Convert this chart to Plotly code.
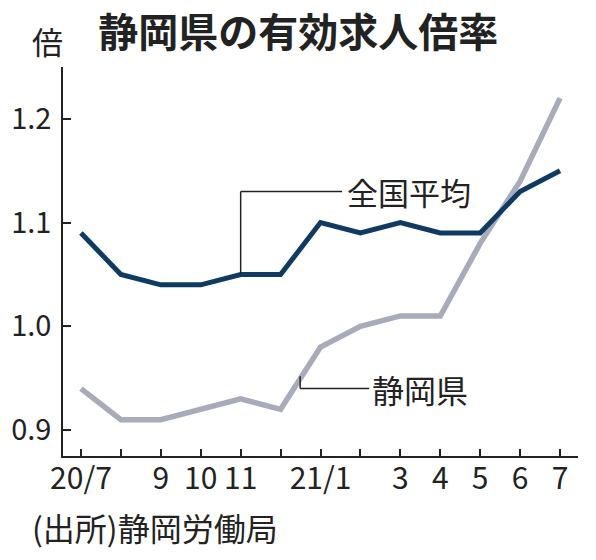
"""
静岡県の有効求人倍率 (2020/7 - 2021/7) line chart.
"""

import plotly.graph_objects as go

# months on the x axis and the labels printed under the ticks
MONTHS = ["20/7", "20/8", "20/9", "20/10", "20/11", "20/12",
          "21/1", "21/2", "21/3", "21/4", "21/5", "21/6", "21/7"]
TICK_LABELS = ["20/7", "", "9", "10", "11", "", "21/1", "", "3", "4", "5", "6", "7"]

# ratios
NATIONAL = [1.09, 1.05, 1.04, 1.04, 1.05, 1.05, 1.10, 1.09, 1.10, 1.09, 1.09, 1.13, 1.15]
SHIZUOKA = [0.94, 0.91, 0.91, 0.92, 0.93, 0.92, 0.98, 1.00, 1.01, 1.01, 1.08, 1.14, 1.22]

Y_TICKS = [0.9, 1.0, 1.1, 1.2]
Y_TICK_LABELS = ["0.9", "1.0", "1.1", "1.2"]

NAVY = "#0f3b63"
GRAY = "#a9abbb"
INK = "#222222"
JP_FONT = "Noto Sans CJK JP"

xs = list(range(len(MONTHS)))

fig = go.Figure()
fig.add_trace(go.Scatter(x=xs, y=SHIZUOKA, mode="lines", name="静岡県",
                         line=dict(color=GRAY, width=5.5)))
fig.add_trace(go.Scatter(x=xs, y=NATIONAL, mode="lines", name="全国平均",
                         line=dict(color=NAVY, width=5)))

# leader lines to the series labels
leader = dict(color=INK, width=1.5)
fig.add_shape(type="line", x0=4, x1=4, y0=NATIONAL[4], y1=1.13, line=leader)
fig.add_shape(type="line", x0=4, x1=6.54, y0=1.13, y1=1.13, line=leader)
fig.add_shape(type="line", x0=5.49, x1=5.49, y0=0.952, y1=0.94, line=leader)
fig.add_shape(type="line", x0=5.49, x1=7.22, y0=0.94, y1=0.94, line=leader)

fig.add_annotation(x=6.62, y=1.13, text="全国平均", showarrow=False,
                   xanchor="left", yanchor="middle",
                   font=dict(family=JP_FONT, size=31, color=INK))
fig.add_annotation(x=7.25, y=0.94, text="静岡県", showarrow=False,
                   xanchor="left", yanchor="middle",
                   font=dict(family=JP_FONT, size=32, color=INK))

# unit and source
fig.add_annotation(xref="paper", yref="paper", x=-0.03, y=1.067, text="倍",
                   showarrow=False, xanchor="center", yanchor="middle",
                   font=dict(family=JP_FONT, size=31, color=INK))
fig.add_annotation(xref="paper", yref="paper", x=-0.064, y=-0.183,
                   text="(出所)静岡労働局", showarrow=False,
                   xanchor="left", yanchor="middle",
                   font=dict(family=JP_FONT, size=32, color=INK))

# the page body adds an 8px offset, so margins are shifted to compensate
fig.update_layout(
    width=596, height=560,
    margin=dict(l=55, r=26, t=59, b=112),
    paper_bgcolor="white", plot_bgcolor="white",
    showlegend=False,
    title=dict(text="<b>静岡県の有効求人倍率</b>", x=0.487, xanchor="center",
               y=0.956, yanchor="middle",
               font=dict(family=JP_FONT, size=40, color=INK)),
)
fig.update_xaxes(
    range=[-0.45, 12.45], tickvals=xs, ticktext=TICK_LABELS,
    showgrid=False, zeroline=False, showline=True, linecolor=INK, linewidth=1.5,
    ticks="inside", ticklen=7, tickwidth=1.5, tickcolor=INK,
    ticklabelstandoff=-5, tickangle=0, automargin=False,
    tickfont=dict(family=JP_FONT, size=30, color=INK),
)
fig.update_yaxes(
    range=[0.875, 1.25], tickvals=Y_TICKS, ticktext=Y_TICK_LABELS,
    showgrid=False, zeroline=False, showline=True, linecolor=INK, linewidth=1.5,
    ticks="inside", ticklen=8, tickwidth=1.5, tickcolor=INK,
    ticklabelstandoff=4, automargin=False,
    tickfont=dict(family=JP_FONT, size=29, color=INK),
)

fig.write_html("out.html")
